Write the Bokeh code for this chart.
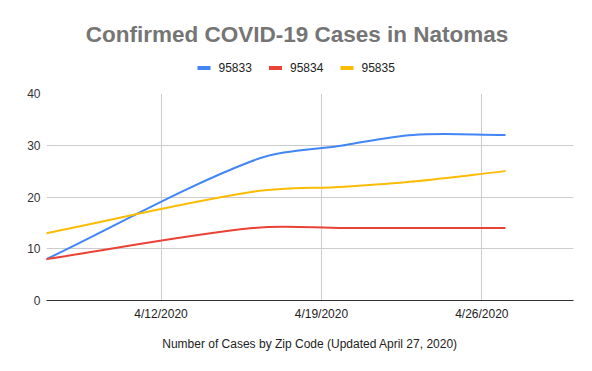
import numpy as np
from bokeh.plotting import figure
from bokeh.layouts import column
from bokeh.models import Range1d, FixedTicker, ColumnDataSource
from bokeh.core.properties import value
from bokeh.embed import file_html
from bokeh.resources import INLINE

# ---- data ----
dates = ["2020-04-07", "2020-04-16", "2020-04-20", "2020-04-23", "2020-04-27"]
cases_95833 = [8, 27, 30, 32, 32]
cases_95834 = [8, 14, 14, 14, 14]
cases_95835 = [13, 21, 22, 23, 25]
series_names = ["95833", "95834", "95835"]
series_colors = ["#4285F4", "#EA4335", "#FBBC04"]
x_tick_dates = ["2020-04-12", "2020-04-19", "2020-04-26"]
x_tick_labels = ["4/12/2020", "4/19/2020", "4/26/2020"]
y_ticks = [0, 10, 20, 30, 40]
x_start, x_end = "2020-04-07", "2020-04-30"
title_text = "Confirmed COVID-19 Cases in Natomas"
x_title = "Number of Cases by Zip Code (Updated April 27, 2020)"


def to_ms(d):
    return np.atleast_1d(np.array(d, dtype="datetime64[ms]")).astype("int64").astype(float)


def bezier_segments(x, y):
    """Cubic Hermite (function) smoothing expressed as Bezier control points."""
    x = np.asarray(x, float)
    y = np.asarray(y, float)
    n = len(x)
    m = np.zeros(n)
    for i in range(n):
        if i == 0:
            m[i] = (y[1] - y[0]) / (x[1] - x[0])
        elif i == n - 1:
            m[i] = (y[-1] - y[-2]) / (x[-1] - x[-2])
        else:
            m[i] = (y[i + 1] - y[i - 1]) / (x[i + 1] - x[i - 1])
    h = np.diff(x)
    return dict(x0=x[:-1], y0=y[:-1], x1=x[1:], y1=y[1:],
                cx0=x[:-1] + h / 3, cy0=y[:-1] + m[:-1] * h / 3,
                cx1=x[1:] - h / 3, cy1=y[1:] - m[1:] * h / 3)


FONT = "Liberation Sans"
W = 592
HEADER_H = 80
BORDER_L, BORDER_R = 46, 19

# ---------------- header: title + legend (pixel coordinates) ----------------
# the column aligns this header's frame with the chart frame, so its x range
# is expressed in page pixels of that frame
hdr = figure(width=W, height=HEADER_H, x_range=Range1d(BORDER_L, W - BORDER_R),
             y_range=Range1d(HEADER_H, 0),
             x_axis_location=None, y_axis_location=None, title_location=None,
             min_border=0, min_border_left=BORDER_L, min_border_right=BORDER_R,
             output_backend="svg", toolbar_location=None)
hdr.grid.visible = False
hdr.outline_line_color = None
hdr.background_fill_color = "white"
hdr.border_fill_color = "white"

hdr.text(x=[W / 2 + 0.5], y=[34], text=[title_text], text_font=value(FONT),
         text_font_size="22.5px", text_font_style="bold", text_color="#757575",
         text_align="center", text_baseline="middle")

legend_left, item_step, sw_w, sw_h, label_gap, legend_y = 197, 71.5, 13, 4, 8, 67.5
sw_x = [legend_left + i * item_step + sw_w / 2 for i in range(len(series_names))]
lab_x = [legend_left + i * item_step + sw_w + label_gap for i in range(len(series_names))]
hdr.rect(x=sw_x, y=[legend_y] * len(series_names), width=sw_w, height=sw_h,
         fill_color=series_colors, line_color=None)
hdr.text(x=lab_x, y=[legend_y - 0.5] * len(series_names), text=series_names,
         text_font=value(FONT), text_font_size="12px", text_color="#222222",
         text_align="left", text_baseline="middle")

# ---------------- main chart ----------------
p = figure(width=W, height=371 - HEADER_H, x_axis_type="datetime",
           output_backend="svg", toolbar_location=None, title_location=None,
           x_range=Range1d(float(to_ms(x_start)[0]), float(to_ms(x_end)[0])),
           y_range=Range1d(0, 40),
           min_border_left=BORDER_L, min_border_right=BORDER_R,
           min_border_top=93 - HEADER_H, min_border_bottom=71)
p.outline_line_color = None
p.background_fill_color = "white"
p.border_fill_color = "white"

xt = [float(t) for t in to_ms(x_tick_dates)]
p.xaxis.ticker = FixedTicker(ticks=xt)
p.xaxis.major_label_overrides = {t: lab for t, lab in zip(xt, x_tick_labels)}
p.yaxis.ticker = FixedTicker(ticks=y_ticks)
for ax in (p.xaxis, p.yaxis):
    ax.major_tick_out = 0
    ax.major_tick_in = 0
    ax.minor_tick_out = 0
    ax.minor_tick_in = 0
    ax.major_label_text_font = FONT
    ax.major_label_text_font_size = "12px"
    ax.major_label_text_color = "#222222"
p.yaxis.major_label_text_color = "#333333"
p.xaxis.axis_line_color = "#333333"
p.xaxis.major_label_standoff = 6
p.yaxis.axis_line_color = None
p.yaxis.major_label_standoff = 6
p.xaxis.axis_label = x_title
p.xaxis.axis_label_text_font = FONT
p.xaxis.axis_label_text_font_size = "12px"
p.xaxis.axis_label_text_font_style = "normal"
p.xaxis.axis_label_text_color = "#222222"
p.xaxis.axis_label_standoff = 13

p.xgrid.grid_line_color = "#cccccc"
p.ygrid.grid_line_color = "#cccccc"

xd = to_ms(dates)
for vals, color in zip([cases_95833, cases_95834, cases_95835], series_colors):
    src = ColumnDataSource(bezier_segments(xd, vals))
    p.bezier(x0="x0", y0="y0", x1="x1", y1="y1", cx0="cx0", cy0="cy0",
             cx1="cx1", cy1="cy1", source=src, line_color=color,
             line_width=2, line_cap="round")

layout = column(hdr, p, spacing=0)
open("out.html", "w").write(file_html(layout, INLINE))
